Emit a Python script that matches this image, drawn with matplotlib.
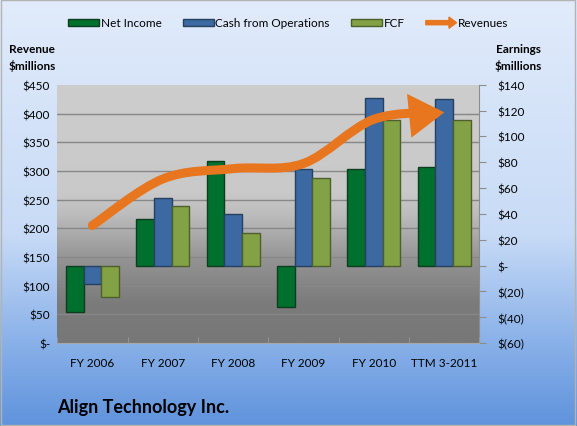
import numpy as np
import matplotlib
matplotlib.use('Agg')
import matplotlib.pyplot as plt
import matplotlib.patches as mpatches
from matplotlib.colors import LinearSegmentedColormap
from matplotlib.legend_handler import HandlerPatch
from matplotlib.path import Path
from matplotlib.ticker import FixedLocator, FuncFormatter, MultipleLocator

plt.rcParams['font.family'] = ['Lato', 'DejaVu Sans']

# data ($ millions)
categories = ['FY 2006', 'FY 2007', 'FY 2008', 'FY 2009', 'FY 2010', 'TTM 3-2011']
net_income = [-36, 36, 81, -32, 75, 76]
cash_ops = [-14, 52, 40, 75, 130, 129]
fcf = [-24, 46, 25, 68, 113, 113]
revenues = [205, 286, 304, 313, 390, 402]

c_ni, c_cfo, c_fcf, c_rev = '#00702f', '#3c69a1', '#83a145', '#e8761e'

fig = plt.figure(figsize=(5.77, 4.27), dpi=100)

# blue gradient behind everything
bg = fig.add_axes([0, 0, 1, 1], zorder=-10)
bg_cmap = LinearSegmentedColormap.from_list(
    'bg', [(0, '#5f93dc'), (0.22, '#8fb5ea'), (0.45, '#c8dbf6'), (1, '#e1ebfb')])
bg.imshow(np.linspace(0, 1, 256).reshape(-1, 1), aspect='auto', cmap=bg_cmap,
          origin='lower', extent=[0, 1, 0, 1])
bg.axis('off')
fig.patches.append(mpatches.Rectangle((0.002, 0.003), 0.995, 0.994, transform=fig.transFigure,
                                      fill=False, ec='#b3b3b3', lw=1))

rect = [0.099, 0.194, 0.732, 0.605]
# gray gradient of the plot area: flat on top, darkening in the lower half
pa = fig.add_axes(rect, zorder=0)
pa_cmap = LinearSegmentedColormap.from_list(
    'pa', [(0, '#777777'), (0.15, '#7b7b7b'), (0.32, '#939393'), (0.5, '#bdbdbd'),
           (0.58, '#c9c9c9'), (1, '#cdcdcd')])
pa.imshow(np.linspace(0, 1, 256).reshape(-1, 1), aspect='auto', cmap=pa_cmap,
          origin='lower', extent=[0, 1, 0, 1])
pa.axis('off')

ax = fig.add_axes(rect, zorder=2)   # revenues, left axis
ax2 = ax.twinx()                    # earnings, right axis
ax2.set_zorder(1)
ax.patch.set_visible(False)
ax2.patch.set_visible(False)

x = np.arange(len(categories))
w = 0.25
ax2.bar(x - w, net_income, w, color=c_ni, edgecolor='#0d3d1e', lw=1)
ax2.bar(x, cash_ops, w, color=c_cfo, edgecolor='#25415f', lw=1)
ax2.bar(x + w, fcf, w, color=c_fcf, edgecolor='#4d5f2a', lw=1)

ax.set_ylim(0, 450)
ax2.set_ylim(-60, 140)
ax.set_xlim(-0.5, len(categories) - 0.5)

# horizontal grid follows the revenue ticks, drawn under the bars
rev_ticks = np.arange(0, 451, 50)
e_lo, e_hi = ax2.get_ylim()
ax2.yaxis.set_minor_locator(FixedLocator(e_lo + rev_ticks / 450 * (e_hi - e_lo)))
ax2.set_axisbelow(True)
ax2.grid(which='minor', axis='y', color='#878787', lw=1)
ax2.tick_params(which='minor', axis='y', length=0)

# smoothed revenue line ending in an arrow
pts = np.column_stack([x, revenues]).astype(float)
ext = np.vstack([pts[0], pts, pts[-1]])
verts = [pts[0]]
codes = [Path.MOVETO]
for i in range(len(pts) - 1):
    p0, p1, p2, p3 = ext[i], ext[i + 1], ext[i + 2], ext[i + 3]
    verts += [p1 + (p2 - p0) / 6, p2 - (p3 - p1) / 6, p2]
    codes += [Path.CURVE4] * 3
arrow = mpatches.FancyArrowPatch(path=Path(verts, codes),
                                 arrowstyle='-|>,head_length=0.8,head_width=0.5',
                                 mutation_scale=20, lw=6.5, color=c_rev,
                                 capstyle='round', joinstyle='miter')
ax.add_patch(arrow)


def rev_fmt(v, pos):
    return '$-' if v == 0 else f'${v:.0f}'


def earn_fmt(v, pos):
    if v == 0:
        return '$-'
    if v < 0:
        return f'$({-v:.0f})'
    return f'${v:.0f}'


ax.yaxis.set_major_locator(MultipleLocator(50))
ax.yaxis.set_major_formatter(FuncFormatter(rev_fmt))
ax2.yaxis.set_major_locator(MultipleLocator(20))
ax2.yaxis.set_major_formatter(FuncFormatter(earn_fmt))
ax.tick_params(axis='y', length=0, pad=5, labelsize=8.5)
ax2.tick_params(axis='y', length=5, color='#8c8c8c', pad=8, labelsize=8.5)

ax.set_xticks(x, categories)
ax.xaxis.set_minor_locator(FixedLocator(np.arange(-0.5, len(categories), 1)))
ax.tick_params(axis='x', which='major', length=0, pad=10, labelsize=8.5)
ax.tick_params(axis='x', which='minor', length=4, direction='in', color='#9a9a9a')

for a in (ax, ax2):
    for s in a.spines.values():
        s.set_visible(False)
ax2.spines['right'].set_visible(True)
ax2.spines['right'].set_color('#8c8c8c')
ax2.spines['bottom'].set_visible(True)
ax2.spines['bottom'].set_color('#a8a8a8')


def legend_arrow(legend, orig_handle, xdescent, ydescent, width, height, fontsize):
    return mpatches.FancyArrow(0, height / 2, width, 0, width=height * 0.55,
                               head_width=height * 1.5, head_length=height * 1.0,
                               length_includes_head=True)


handles = [mpatches.Patch(facecolor=c_ni, edgecolor='#0d3d1e'),
           mpatches.Patch(facecolor=c_cfo, edgecolor='#25415f'),
           mpatches.Patch(facecolor=c_fcf, edgecolor='#4d5f2a'),
           mpatches.FancyArrow(0, 0, 1, 0, color=c_rev)]
labels = ['Net Income', 'Cash from Operations', 'FCF', 'Revenues']
fig.legend(handles, labels, loc='center', bbox_to_anchor=(0.5, 0.944), ncol=4,
           frameon=False, fontsize=8.5, handlelength=2.6, handleheight=0.6,
           handletextpad=0.15, columnspacing=1.8,
           handler_map={mpatches.FancyArrow: HandlerPatch(patch_func=legend_arrow)})

fig.text(0.0555, 0.864, 'Revenue\n$millions', ha='center', va='center',
         fontsize=8.5, fontweight='bold', linespacing=1.5)
fig.text(0.898, 0.864, 'Earnings\n$millions', ha='center', va='center',
         fontsize=8.5, fontweight='bold', linespacing=1.5)
fig.text(0.099, 0.033, 'Align Technology Inc.', fontsize=13, fontweight='bold',
         va='baseline')

fig.savefig('out.png', dpi=100)
